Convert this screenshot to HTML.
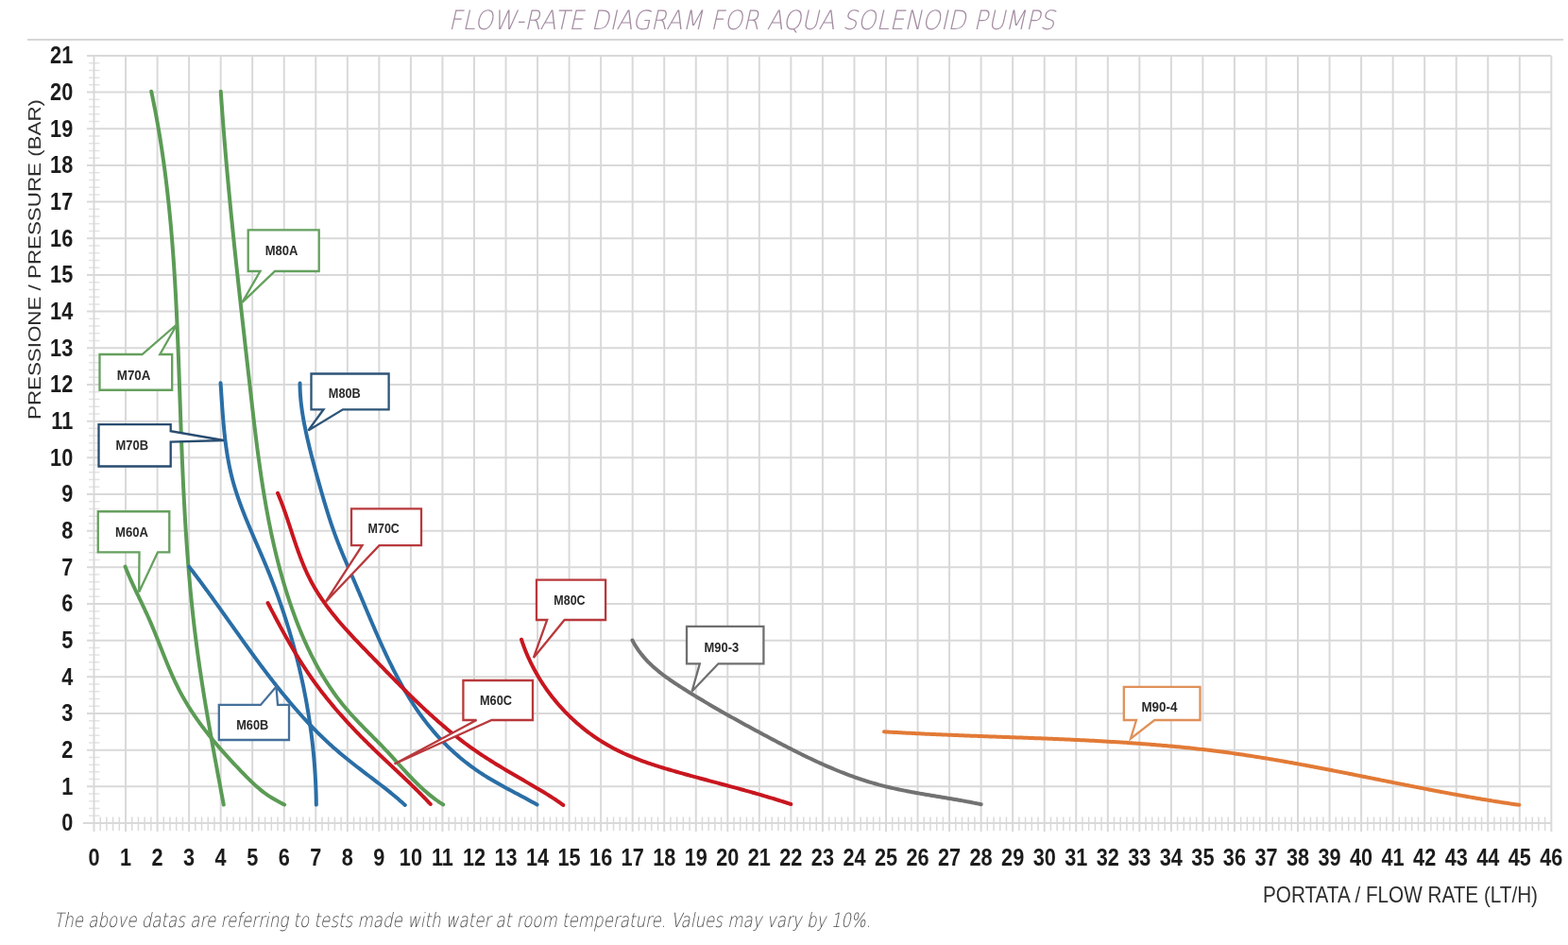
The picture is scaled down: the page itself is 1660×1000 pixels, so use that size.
<!DOCTYPE html>
<html><head><meta charset="utf-8"><title>Flow-rate diagram</title>
<style>html,body{margin:0;padding:0;background:#fff;}body{width:1660px;height:1000px;overflow:hidden;}svg{display:block;filter:blur(0.5px);}</style></head><body>
<svg width="1660" height="1000" viewBox="0 0 1660 1000">
<rect width="1660" height="1000" fill="#fff"/>
<text x="795.8" y="30.7" text-anchor="middle" font-family="DejaVu Sans Light, Liberation Sans, sans-serif" font-style="italic" font-weight="200" font-size="28" fill="#a48ca2" textLength="642" lengthAdjust="spacingAndGlyphs" >FLOW-RATE DIAGRAM FOR AQUA SOLENOID PUMPS</text>
<line x1="29" y1="42" x2="1655" y2="42" stroke="#d6d6d6" stroke-width="2"/>
<path d="M106.21 864.5V879 M112.92 864.5V879 M119.62 864.5V879 M126.33 864.5V879 M139.75 864.5V879 M146.46 864.5V879 M153.16 864.5V879 M159.87 864.5V879 M173.29 864.5V879 M180 864.5V879 M186.7 864.5V879 M193.41 864.5V879 M206.83 864.5V879 M213.54 864.5V879 M220.24 864.5V879 M226.95 864.5V879 M240.37 864.5V879 M247.08 864.5V879 M253.78 864.5V879 M260.49 864.5V879 M273.91 864.5V879 M280.62 864.5V879 M287.32 864.5V879 M294.03 864.5V879 M307.45 864.5V879 M314.16 864.5V879 M320.86 864.5V879 M327.57 864.5V879 M340.99 864.5V879 M347.7 864.5V879 M354.4 864.5V879 M361.11 864.5V879 M374.53 864.5V879 M381.24 864.5V879 M387.94 864.5V879 M394.65 864.5V879 M408.07 864.5V879 M414.78 864.5V879 M421.48 864.5V879 M428.19 864.5V879 M441.61 864.5V879 M448.32 864.5V879 M455.02 864.5V879 M461.73 864.5V879 M475.15 864.5V879 M481.86 864.5V879 M488.56 864.5V879 M495.27 864.5V879 M508.69 864.5V879 M515.4 864.5V879 M522.1 864.5V879 M528.81 864.5V879 M542.23 864.5V879 M548.94 864.5V879 M555.64 864.5V879 M562.35 864.5V879 M575.77 864.5V879 M582.48 864.5V879 M589.18 864.5V879 M595.89 864.5V879 M609.31 864.5V879 M616.02 864.5V879 M622.72 864.5V879 M629.43 864.5V879 M642.85 864.5V879 M649.56 864.5V879 M656.26 864.5V879 M662.97 864.5V879 M676.39 864.5V879 M683.1 864.5V879 M689.8 864.5V879 M696.51 864.5V879 M709.93 864.5V879 M716.64 864.5V879 M723.34 864.5V879 M730.05 864.5V879 M743.47 864.5V879 M750.18 864.5V879 M756.88 864.5V879 M763.59 864.5V879 M777.01 864.5V879 M783.72 864.5V879 M790.42 864.5V879 M797.13 864.5V879 M810.55 864.5V879 M817.26 864.5V879 M823.96 864.5V879 M830.67 864.5V879 M844.09 864.5V879 M850.8 864.5V879 M857.5 864.5V879 M864.21 864.5V879 M877.63 864.5V879 M884.34 864.5V879 M891.04 864.5V879 M897.75 864.5V879 M911.17 864.5V879 M917.88 864.5V879 M924.58 864.5V879 M931.29 864.5V879 M944.71 864.5V879 M951.42 864.5V879 M958.12 864.5V879 M964.83 864.5V879 M978.25 864.5V879 M984.96 864.5V879 M991.66 864.5V879 M998.37 864.5V879 M1011.79 864.5V879 M1018.5 864.5V879 M1025.2 864.5V879 M1031.91 864.5V879 M1045.33 864.5V879 M1052.04 864.5V879 M1058.74 864.5V879 M1065.45 864.5V879 M1078.87 864.5V879 M1085.58 864.5V879 M1092.28 864.5V879 M1098.99 864.5V879 M1112.41 864.5V879 M1119.12 864.5V879 M1125.82 864.5V879 M1132.53 864.5V879 M1145.95 864.5V879 M1152.66 864.5V879 M1159.36 864.5V879 M1166.07 864.5V879 M1179.49 864.5V879 M1186.2 864.5V879 M1192.9 864.5V879 M1199.61 864.5V879 M1213.03 864.5V879 M1219.74 864.5V879 M1226.44 864.5V879 M1233.15 864.5V879 M1246.57 864.5V879 M1253.28 864.5V879 M1259.98 864.5V879 M1266.69 864.5V879 M1280.11 864.5V879 M1286.82 864.5V879 M1293.52 864.5V879 M1300.23 864.5V879 M1313.65 864.5V879 M1320.36 864.5V879 M1327.06 864.5V879 M1333.77 864.5V879 M1347.19 864.5V879 M1353.9 864.5V879 M1360.6 864.5V879 M1367.31 864.5V879 M1380.73 864.5V879 M1387.44 864.5V879 M1394.14 864.5V879 M1400.85 864.5V879 M1414.27 864.5V879 M1420.98 864.5V879 M1427.68 864.5V879 M1434.39 864.5V879 M1447.81 864.5V879 M1454.52 864.5V879 M1461.22 864.5V879 M1467.93 864.5V879 M1481.35 864.5V879 M1488.06 864.5V879 M1494.76 864.5V879 M1501.47 864.5V879 M1514.89 864.5V879 M1521.6 864.5V879 M1528.3 864.5V879 M1535.01 864.5V879 M1548.43 864.5V879 M1555.14 864.5V879 M1561.84 864.5V879 M1568.55 864.5V879 M1581.97 864.5V879 M1588.68 864.5V879 M1595.38 864.5V879 M1602.09 864.5V879 M1615.51 864.5V879 M1622.22 864.5V879 M1628.92 864.5V879 M1635.63 864.5V879" stroke="#dadada" stroke-width="1.5" fill="none"/>
<path d="M94 863.27H105.5 M94 855.53H105.5 M94 847.8H105.5 M94 840.06H105.5 M94 824.6H105.5 M94 816.86H105.5 M94 809.13H105.5 M94 801.39H105.5 M94 785.93H105.5 M94 778.19H105.5 M94 770.46H105.5 M94 762.72H105.5 M94 747.26H105.5 M94 739.52H105.5 M94 731.79H105.5 M94 724.05H105.5 M94 708.59H105.5 M94 700.85H105.5 M94 693.12H105.5 M94 685.38H105.5 M94 669.92H105.5 M94 662.18H105.5 M94 654.45H105.5 M94 646.71H105.5 M94 631.25H105.5 M94 623.51H105.5 M94 615.78H105.5 M94 608.04H105.5 M94 592.58H105.5 M94 584.84H105.5 M94 577.11H105.5 M94 569.37H105.5 M94 553.91H105.5 M94 546.17H105.5 M94 538.44H105.5 M94 530.7H105.5 M94 515.24H105.5 M94 507.5H105.5 M94 499.77H105.5 M94 492.03H105.5 M94 476.57H105.5 M94 468.83H105.5 M94 461.1H105.5 M94 453.36H105.5 M94 437.9H105.5 M94 430.16H105.5 M94 422.43H105.5 M94 414.69H105.5 M94 399.23H105.5 M94 391.49H105.5 M94 383.76H105.5 M94 376.02H105.5 M94 360.56H105.5 M94 352.82H105.5 M94 345.09H105.5 M94 337.35H105.5 M94 321.89H105.5 M94 314.15H105.5 M94 306.42H105.5 M94 298.68H105.5 M94 283.22H105.5 M94 275.48H105.5 M94 267.75H105.5 M94 260.01H105.5 M94 244.55H105.5 M94 236.81H105.5 M94 229.08H105.5 M94 221.34H105.5 M94 205.88H105.5 M94 198.14H105.5 M94 190.41H105.5 M94 182.67H105.5 M94 167.21H105.5 M94 159.47H105.5 M94 151.74H105.5 M94 144H105.5 M94 128.54H105.5 M94 120.8H105.5 M94 113.07H105.5 M94 105.33H105.5 M94 89.87H105.5 M94 82.13H105.5 M94 74.4H105.5 M94 66.66H105.5" stroke="#e3e3e3" stroke-width="1.5" fill="none"/>
<path d="M99.5 58.93V880 M133.04 58.93V880 M166.58 58.93V880 M200.12 58.93V880 M233.66 58.93V880 M267.2 58.93V880 M300.74 58.93V880 M334.28 58.93V880 M367.82 58.93V880 M401.36 58.93V880 M434.9 58.93V880 M468.44 58.93V880 M501.98 58.93V880 M535.52 58.93V880 M569.06 58.93V880 M602.6 58.93V880 M636.14 58.93V880 M669.68 58.93V880 M703.22 58.93V880 M736.76 58.93V880 M770.3 58.93V880 M803.84 58.93V880 M837.38 58.93V880 M870.92 58.93V880 M904.46 58.93V880 M938 58.93V880 M971.54 58.93V880 M1005.08 58.93V880 M1038.62 58.93V880 M1072.16 58.93V880 M1105.7 58.93V880 M1139.24 58.93V880 M1172.78 58.93V880 M1206.32 58.93V880 M1239.86 58.93V880 M1273.4 58.93V880 M1306.94 58.93V880 M1340.48 58.93V880 M1374.02 58.93V880 M1407.56 58.93V880 M1441.1 58.93V880 M1474.64 58.93V880 M1508.18 58.93V880 M1541.72 58.93V880 M1575.26 58.93V880 M1608.8 58.93V880 M1642.34 58.93V880 M92 832.33H1642.34 M92 793.66H1642.34 M92 754.99H1642.34 M92 716.32H1642.34 M92 677.65H1642.34 M92 638.98H1642.34 M92 600.31H1642.34 M92 561.64H1642.34 M92 522.97H1642.34 M92 484.3H1642.34 M92 445.63H1642.34 M92 406.96H1642.34 M92 368.29H1642.34 M92 329.62H1642.34 M92 290.95H1642.34 M92 252.28H1642.34 M92 213.61H1642.34 M92 174.94H1642.34 M92 136.27H1642.34 M92 97.6H1642.34 M92 58.93H1642.34 M88 871H1642.34" stroke="#d9d9d9" stroke-width="2" fill="none"/>
<g transform="scale(0.85 1)" font-family="Liberation Sans, sans-serif" font-weight="bold" font-size="25.5" fill="#1c1c1c"><text x="117.06" y="915.6" text-anchor="middle">0</text><text x="156.52" y="915.6" text-anchor="middle">1</text><text x="195.98" y="915.6" text-anchor="middle">2</text><text x="235.44" y="915.6" text-anchor="middle">3</text><text x="274.89" y="915.6" text-anchor="middle">4</text><text x="314.35" y="915.6" text-anchor="middle">5</text><text x="353.81" y="915.6" text-anchor="middle">6</text><text x="393.27" y="915.6" text-anchor="middle">7</text><text x="432.73" y="915.6" text-anchor="middle">8</text><text x="472.19" y="915.6" text-anchor="middle">9</text><text x="511.65" y="915.6" text-anchor="middle">10</text><text x="551.11" y="915.6" text-anchor="middle">11</text><text x="590.56" y="915.6" text-anchor="middle">12</text><text x="630.02" y="915.6" text-anchor="middle">13</text><text x="669.48" y="915.6" text-anchor="middle">14</text><text x="708.94" y="915.6" text-anchor="middle">15</text><text x="748.4" y="915.6" text-anchor="middle">16</text><text x="787.86" y="915.6" text-anchor="middle">17</text><text x="827.32" y="915.6" text-anchor="middle">18</text><text x="866.78" y="915.6" text-anchor="middle">19</text><text x="906.24" y="915.6" text-anchor="middle">20</text><text x="945.69" y="915.6" text-anchor="middle">21</text><text x="985.15" y="915.6" text-anchor="middle">22</text><text x="1024.61" y="915.6" text-anchor="middle">23</text><text x="1064.07" y="915.6" text-anchor="middle">24</text><text x="1103.53" y="915.6" text-anchor="middle">25</text><text x="1142.99" y="915.6" text-anchor="middle">26</text><text x="1182.45" y="915.6" text-anchor="middle">27</text><text x="1221.91" y="915.6" text-anchor="middle">28</text><text x="1261.36" y="915.6" text-anchor="middle">29</text><text x="1300.82" y="915.6" text-anchor="middle">30</text><text x="1340.28" y="915.6" text-anchor="middle">31</text><text x="1379.74" y="915.6" text-anchor="middle">32</text><text x="1419.2" y="915.6" text-anchor="middle">33</text><text x="1458.66" y="915.6" text-anchor="middle">34</text><text x="1498.12" y="915.6" text-anchor="middle">35</text><text x="1537.58" y="915.6" text-anchor="middle">36</text><text x="1577.04" y="915.6" text-anchor="middle">37</text><text x="1616.49" y="915.6" text-anchor="middle">38</text><text x="1655.95" y="915.6" text-anchor="middle">39</text><text x="1695.41" y="915.6" text-anchor="middle">40</text><text x="1734.87" y="915.6" text-anchor="middle">41</text><text x="1774.33" y="915.6" text-anchor="middle">42</text><text x="1813.79" y="915.6" text-anchor="middle">43</text><text x="1853.25" y="915.6" text-anchor="middle">44</text><text x="1892.71" y="915.6" text-anchor="middle">45</text><text x="1932.16" y="915.6" text-anchor="middle">46</text><text x="90.82" y="879.4" text-anchor="end">0</text><text x="90.82" y="840.73" text-anchor="end">1</text><text x="90.82" y="802.06" text-anchor="end">2</text><text x="90.82" y="763.39" text-anchor="end">3</text><text x="90.82" y="724.72" text-anchor="end">4</text><text x="90.82" y="686.05" text-anchor="end">5</text><text x="90.82" y="647.38" text-anchor="end">6</text><text x="90.82" y="608.71" text-anchor="end">7</text><text x="90.82" y="570.04" text-anchor="end">8</text><text x="90.82" y="531.37" text-anchor="end">9</text><text x="90.82" y="492.7" text-anchor="end">10</text><text x="90.82" y="454.03" text-anchor="end">11</text><text x="90.82" y="415.36" text-anchor="end">12</text><text x="90.82" y="376.69" text-anchor="end">13</text><text x="90.82" y="338.02" text-anchor="end">14</text><text x="90.82" y="299.35" text-anchor="end">15</text><text x="90.82" y="260.68" text-anchor="end">16</text><text x="90.82" y="222.01" text-anchor="end">17</text><text x="90.82" y="183.34" text-anchor="end">18</text><text x="90.82" y="144.67" text-anchor="end">19</text><text x="90.82" y="106" text-anchor="end">20</text><text x="90.82" y="67.33" text-anchor="end">21</text></g>
<text transform="translate(42.6 444) rotate(-90)" font-family="Liberation Sans, sans-serif" font-size="18.6" fill="#2e2e2e" textLength="339" lengthAdjust="spacingAndGlyphs">PRESSIONE / PRESSURE (BAR)</text>
<text x="1337" y="955" font-family="Liberation Sans, sans-serif" font-size="23.8" fill="#2e2e2e" textLength="291" lengthAdjust="spacingAndGlyphs">PORTATA / FLOW RATE (LT/H)</text>
<text x="57" y="980.7" font-family="DejaVu Sans Light, Liberation Sans, sans-serif" font-style="italic" font-size="21" fill="#4a4a4a" textLength="865" lengthAdjust="spacingAndGlyphs">The above datas are referring to tests made with water at room temperature. Values may vary by 10%.</text>
<path d="M160.21 96.75 L160.62 98.72 161.04 100.69 161.45 102.66 161.85 104.63 162.25 106.6 162.65 108.57 163.04 110.55 163.43 112.52 163.82 114.49 164.2 116.47 164.57 118.44 164.94 120.41 165.31 122.39 165.68 124.36 166.04 126.34 166.39 128.32 166.75 130.29 167.09 132.27 167.44 134.25 167.78 136.22 168.12 138.2 168.45 140.18 168.78 142.16 169.11 144.14 169.43 146.12 169.75 148.1 170.06 150.08 170.37 152.06 170.68 154.04 170.98 156.02 171.29 158 171.58 159.99 171.88 161.97 172.17 163.95 172.45 165.94 172.74 167.92 173.02 169.9 173.29 171.89 173.57 173.87 173.84 175.86 174.1 177.84 174.37 179.83 174.63 181.82 174.88 183.8 175.14 185.79 175.39 187.78 175.64 189.76 175.88 191.75 176.12 193.74 176.36 195.73 176.6 197.72 176.83 199.71 177.06 201.7 177.29 203.68 177.51 205.67 177.73 207.67 177.95 209.66 178.17 211.65 178.38 213.64 178.59 215.63 178.8 217.62 179 219.61 179.2 221.61 179.4 223.6 179.6 225.59 179.79 227.58 179.98 229.58 180.17 231.57 180.36 233.56 180.54 235.56 180.72 237.55 180.9 239.55 181.08 241.54 181.25 243.54 181.42 245.53 181.59 247.53 181.76 249.52 181.93 251.52 182.09 253.52 182.25 255.51 182.41 257.51 182.56 259.51 182.72 261.5 182.87 263.5 183.02 265.5 183.17 267.5 183.31 269.5 183.46 271.49 183.6 273.49 183.74 275.49 183.87 277.49 184.01 279.49 184.14 281.49 184.28 283.49 184.41 285.49 184.54 287.49 184.66 289.49 184.79 291.49 184.91 293.49 185.03 295.49 185.15 297.49 185.27 299.49 185.39 301.49 185.5 303.49 185.62 305.49 185.73 307.49 185.84 309.5 185.95 311.5 186.06 313.5 186.16 315.5 186.27 317.5 186.37 319.51 186.47 321.51 186.57 323.51 186.67 325.51 186.77 327.52 186.87 329.52 186.97 331.52 187.06 333.53 187.15 335.53 187.25 337.53 187.34 339.54 187.43 341.54 187.52 343.54 187.61 345.55 187.69 347.55 187.78 349.55 187.86 351.56 187.95 353.56 188.03 355.57 188.12 357.57 188.2 359.58 188.28 361.58 188.36 363.58 188.44 365.59 188.52 367.59 188.59 369.6 188.67 371.6 188.75 373.61 188.83 375.61 188.9 377.62 188.98 379.62 189.05 381.63 189.12 383.63 189.2 385.64 189.27 387.64 189.34 389.65 189.42 391.65 189.49 393.66 189.56 395.66 189.63 397.67 189.7 399.68 189.77 401.68 189.84 403.69 189.91 405.69 189.98 407.7 190.05 409.7 190.12 411.71 190.19 413.71 190.26 415.72 190.33 417.72 190.4 419.73 190.47 421.73 190.54 423.74 190.61 425.74 190.68 427.75 190.75 429.76 190.82 431.76 190.89 433.77 190.96 435.77 191.03 437.78 191.1 439.78 191.17 441.79 191.24 443.79 191.31 445.8 191.38 447.8 191.46 449.81 191.53 451.81 191.6 453.82 191.68 455.82 191.75 457.82 191.82 459.83 191.9 461.83 191.97 463.84 192.05 465.84 192.13 467.85 192.2 469.85 192.28 471.86 192.36 473.86 192.44 475.86 192.52 477.87 192.6 479.87 192.68 481.87 192.76 483.88 192.84 485.88 192.93 487.89 193.01 489.89 193.1 491.89 193.18 493.9 193.27 495.9 193.36 497.9 193.44 499.9 193.53 501.91 193.62 503.91 193.71 505.91 193.81 507.92 193.9 509.92 193.99 511.92 194.09 513.92 194.18 515.92 194.28 517.93 194.38 519.93 194.48 521.93 194.58 523.93 194.68 525.93 194.79 527.93 194.89 529.94 195 531.94 195.1 533.94 195.21 535.94 195.32 537.94 195.43 539.94 195.54 541.94 195.65 543.94 195.77 545.94 195.89 547.94 196 549.94 196.12 551.94 196.24 553.94 196.36 555.94 196.49 557.94 196.61 559.94 196.74 561.94 196.87 563.94 197 565.94 197.13 567.93 197.26 569.93 197.4 571.93 197.53 573.93 197.67 575.93 197.81 577.92 197.95 579.92 198.09 581.92 198.24 583.92 198.39 585.91 198.53 587.91 198.68 589.91 198.84 591.9 198.99 593.9 199.15 595.9 199.3 597.89 199.46 599.89 199.63 601.88 199.79 603.88 199.96 605.87 200.12 607.87 200.29 609.86 200.47 611.86 200.64 613.85 200.82 615.85 200.99 617.84 201.17 619.84 201.36 621.83 201.54 623.82 201.73 625.82 201.92 627.81 202.11 629.8 202.3 631.79 202.5 633.79 202.7 635.78 202.9 637.77 203.1 639.76 203.31 641.75 203.52 643.74 203.73 645.74 203.94 647.73 204.16 649.72 204.37 651.71 204.59 653.7 204.82 655.69 205.04 657.68 205.27 659.67 205.5 661.66 205.74 663.64 205.97 665.63 206.21 667.62 206.45 669.61 206.7 671.6 206.94 673.58 207.19 675.57 207.44 677.56 207.7 679.55 207.96 681.53 208.22 683.52 208.48 685.5 208.75 687.49 209.02 689.48 209.29 691.46 209.56 693.45 209.84 695.43 210.12 697.42 210.4 699.4 210.68 701.38 210.97 703.37 211.25 705.35 211.55 707.33 211.84 709.32 212.13 711.3 212.43 713.28 212.73 715.27 213.03 717.25 213.34 719.23 213.64 721.21 213.95 723.19 214.26 725.17 214.57 727.16 214.89 729.14 215.2 731.12 215.52 733.1 215.84 735.08 216.16 737.06 216.48 739.04 216.81 741.02 217.14 743 217.46 744.98 217.79 746.96 218.13 748.93 218.46 750.91 218.79 752.89 219.13 754.87 219.47 756.85 219.81 758.83 220.15 760.8 220.49 762.78 220.83 764.76 221.18 766.73 221.52 768.71 221.87 770.69 222.22 772.66 222.57 774.64 222.92 776.62 223.27 778.59 223.63 780.57 223.98 782.54 224.33 784.52 224.69 786.49 225.05 788.47 225.41 790.44 225.76 792.42 226.12 794.39 226.48 796.37 226.85 798.34 227.21 800.32 227.57 802.29 227.93 804.26 228.3 806.24 228.66 808.21 229.03 810.18 229.39 812.16 229.76 814.13 230.13 816.1 230.49 818.08 230.86 820.05 231.23 822.02 231.6 823.99 231.97 825.97 232.34 827.94 232.7 829.91 233.07 831.88 233.44 833.85 233.81 835.82 234.18 837.8 234.55 839.77 234.92 841.74 235.29 843.71 235.66 845.68 236.03 847.65 236.4 849.62 236.77 851.59" stroke="#5b9b55" stroke-width="4" fill="none" stroke-linecap="round" stroke-linejoin="round"/>
<path d="M233.78 96.74 L233.91 98.75 234.05 100.75 234.19 102.76 234.32 104.76 234.46 106.77 234.6 108.77 234.74 110.77 234.89 112.77 235.03 114.78 235.18 116.78 235.32 118.78 235.47 120.78 235.62 122.79 235.77 124.79 235.92 126.79 236.07 128.79 236.22 130.79 236.38 132.79 236.53 134.79 236.69 136.79 236.85 138.79 237.01 140.79 237.17 142.79 237.33 144.79 237.49 146.79 237.65 148.79 237.81 150.78 237.98 152.78 238.14 154.78 238.31 156.78 238.48 158.78 238.65 160.77 238.82 162.77 238.99 164.77 239.16 166.76 239.33 168.76 239.51 170.76 239.68 172.75 239.86 174.75 240.03 176.75 240.21 178.74 240.39 180.74 240.57 182.73 240.75 184.73 240.93 186.72 241.11 188.72 241.29 190.71 241.47 192.71 241.66 194.7 241.84 196.7 242.03 198.69 242.22 200.69 242.4 202.68 242.59 204.68 242.78 206.67 242.97 208.66 243.16 210.66 243.35 212.65 243.54 214.64 243.74 216.64 243.93 218.63 244.13 220.62 244.32 222.62 244.52 224.61 244.71 226.6 244.91 228.59 245.11 230.59 245.31 232.58 245.51 234.57 245.71 236.56 245.91 238.55 246.11 240.55 246.31 242.54 246.51 244.53 246.72 246.52 246.92 248.51 247.12 250.51 247.33 252.5 247.53 254.49 247.74 256.48 247.95 258.47 248.15 260.46 248.36 262.45 248.57 264.45 248.78 266.44 248.99 268.43 249.2 270.42 249.41 272.41 249.62 274.4 249.83 276.39 250.04 278.38 250.26 280.37 250.47 282.36 250.68 284.36 250.9 286.35 251.11 288.34 251.33 290.33 251.54 292.32 251.76 294.31 251.97 296.3 252.19 298.29 252.41 300.28 252.62 302.27 252.84 304.26 253.06 306.25 253.28 308.25 253.5 310.24 253.71 312.23 253.93 314.22 254.15 316.21 254.37 318.2 254.59 320.19 254.81 322.18 255.04 324.17 255.26 326.16 255.48 328.15 255.7 330.15 255.92 332.14 256.14 334.13 256.37 336.12 256.59 338.11 256.81 340.1 257.04 342.09 257.26 344.08 257.48 346.08 257.71 348.07 257.93 350.06 258.16 352.05 258.38 354.04 258.6 356.03 258.83 358.03 259.05 360.02 259.28 362.01 259.5 364 259.73 365.99 259.96 367.99 260.18 369.98 260.41 371.97 260.63 373.96 260.86 375.96 261.08 377.95 261.31 379.94 261.54 381.93 261.76 383.93 261.99 385.92 262.21 387.91 262.44 389.91 262.67 391.9 262.89 393.89 263.12 395.89 263.35 397.88 263.57 399.88 263.8 401.87 264.02 403.87 264.25 405.86 264.48 407.85 264.7 409.85 264.93 411.84 265.15 413.84 265.38 415.83 265.61 417.83 265.83 419.82 266.06 421.82 266.29 423.82 266.52 425.81 266.74 427.81 266.97 429.8 267.2 431.8 267.43 433.79 267.66 435.79 267.9 437.78 268.13 439.78 268.36 441.77 268.6 443.77 268.83 445.76 269.07 447.75 269.31 449.75 269.55 451.74 269.79 453.74 270.03 455.73 270.28 457.72 270.52 459.72 270.77 461.71 271.02 463.7 271.27 465.69 271.52 467.68 271.77 469.68 272.03 471.67 272.28 473.66 272.54 475.65 272.8 477.64 273.07 479.63 273.33 481.62 273.6 483.61 273.87 485.59 274.14 487.58 274.42 489.57 274.7 491.55 274.98 493.54 275.26 495.53 275.54 497.51 275.83 499.5 276.12 501.48 276.42 503.46 276.71 505.44 277.01 507.43 277.32 509.41 277.62 511.39 277.93 513.37 278.24 515.35 278.56 517.33 278.87 519.3 279.2 521.28 279.52 523.26 279.85 525.23 280.18 527.21 280.52 529.18 280.86 531.15 281.2 533.12 281.55 535.1 281.9 537.07 282.25 539.04 282.61 541 282.98 542.97 283.34 544.94 283.72 546.9 284.09 548.87 284.47 550.83 284.85 552.79 285.24 554.76 285.64 556.72 286.03 558.68 286.44 560.63 286.84 562.59 287.25 564.55 287.67 566.5 288.09 568.46 288.52 570.41 288.95 572.36 289.39 574.31 289.83 576.26 290.27 578.21 290.72 580.15 291.18 582.1 291.64 584.04 292.11 585.99 292.58 587.93 293.06 589.87 293.55 591.81 294.04 593.75 294.53 595.68 295.03 597.62 295.54 599.55 296.05 601.48 296.57 603.41 297.1 605.34 297.63 607.27 298.16 609.2 298.71 611.12 299.26 613.04 299.81 614.97 300.37 616.89 300.94 618.8 301.52 620.72 302.1 622.64 302.69 624.55 303.28 626.46 303.88 628.37 304.49 630.28 305.11 632.19 305.73 634.09 306.36 636 306.99 637.9 307.64 639.8 308.29 641.7 308.94 643.6 309.61 645.49 310.28 647.38 310.96 649.27 311.65 651.16 312.34 653.05 313.05 654.93 313.76 656.81 314.48 658.68 315.21 660.56 315.94 662.43 316.68 664.3 317.44 666.16 318.2 668.02 318.97 669.87 319.75 671.72 320.53 673.57 321.33 675.42 322.14 677.26 322.95 679.09 323.77 680.92 324.61 682.74 325.45 684.56 326.3 686.38 327.16 688.19 328.04 689.99 328.92 691.79 329.81 693.59 330.71 695.38 331.62 697.16 332.55 698.93 333.48 700.7 334.42 702.47 335.37 704.23 336.34 705.98 337.31 707.72 338.3 709.46 339.3 711.19 340.31 712.91 341.32 714.63 342.35 716.34 343.4 718.04 344.45 719.73 345.52 721.42 346.59 723.1 347.68 724.77 348.78 726.43 349.89 728.08 351.02 729.73 352.15 731.37 353.3 732.99 354.46 734.61 355.64 736.22 356.82 737.83 358.02 739.42 359.23 741 360.46 742.57 361.7 744.14 362.95 745.69 364.21 747.23 365.49 748.77 366.78 750.29 368.08 751.81 369.4 753.31 370.73 754.81 372.07 756.29 373.42 757.77 374.78 759.24 376.14 760.71 377.52 762.17 378.91 763.62 380.3 765.07 381.69 766.51 383.1 767.95 384.51 769.38 385.92 770.81 387.33 772.24 388.75 773.67 390.17 775.1 391.59 776.52 393.02 777.95 394.44 779.37 395.86 780.8 397.28 782.23 398.7 783.66 400.11 785.09 401.52 786.52 402.93 787.96 404.33 789.4 405.73 790.85 407.12 792.3 408.5 793.76 409.88 795.22 411.25 796.69 412.61 798.16 413.97 799.64 415.33 801.12 416.68 802.6 418.02 804.08 419.37 805.57 420.71 807.05 422.06 808.54 423.4 810.02 424.75 811.5 426.09 812.98 427.44 814.45 428.79 815.92 430.15 817.39 431.51 818.85 432.87 820.31 434.25 821.75 435.63 823.19 437.01 824.62 438.41 826.05 439.81 827.46 441.22 828.86 442.65 830.25 444.08 831.63 445.53 833 446.99 834.35 448.46 835.69 449.95 837.02 451.46 838.32 452.98 839.62 454.51 840.89 456.06 842.15 457.64 843.39 459.23 844.61 460.83 845.82 462.46 847 464.11 848.16 465.79 849.3 467.48 850.41 469.2 851.51" stroke="#5b9b55" stroke-width="4" fill="none" stroke-linecap="round" stroke-linejoin="round"/>
<path d="M132.51 599.5 L133.25 601.38 134 603.25 134.77 605.12 135.55 606.98 136.34 608.83 137.14 610.68 137.96 612.52 138.78 614.36 139.61 616.19 140.44 618.02 141.29 619.84 142.14 621.66 142.99 623.48 143.85 625.3 144.71 627.11 145.58 628.93 146.45 630.74 147.31 632.55 148.18 634.36 149.05 636.17 149.92 637.98 150.78 639.79 151.65 641.61 152.5 643.42 153.36 645.24 154.21 647.06 155.05 648.88 155.89 650.71 156.72 652.54 157.54 654.37 158.35 656.21 159.15 658.06 159.95 659.91 160.74 661.76 161.52 663.62 162.29 665.48 163.06 667.34 163.82 669.2 164.58 671.07 165.33 672.94 166.08 674.81 166.83 676.69 167.57 678.56 168.31 680.44 169.05 682.31 169.79 684.19 170.53 686.07 171.28 687.94 172.02 689.82 172.76 691.69 173.51 693.57 174.25 695.44 175.01 697.31 175.76 699.18 176.52 701.04 177.29 702.9 178.06 704.76 178.83 706.62 179.62 708.47 180.41 710.32 181.21 712.16 182.02 714 182.83 715.83 183.66 717.66 184.5 719.49 185.34 721.3 186.2 723.12 187.07 724.92 187.96 726.72 188.85 728.51 189.76 730.29 190.69 732.07 191.63 733.83 192.58 735.59 193.55 737.35 194.54 739.09 195.53 740.82 196.55 742.55 197.57 744.27 198.61 745.98 199.67 747.69 200.73 749.38 201.81 751.07 202.9 752.76 204.01 754.43 205.12 756.1 206.25 757.76 207.39 759.41 208.54 761.06 209.7 762.7 210.88 764.33 212.06 765.95 213.25 767.57 214.46 769.19 215.67 770.79 216.89 772.39 218.13 773.98 219.37 775.57 220.62 777.15 221.88 778.73 223.14 780.29 224.42 781.86 225.7 783.41 226.99 784.96 228.29 786.51 229.6 788.05 230.91 789.58 232.23 791.11 233.55 792.63 234.89 794.15 236.22 795.66 237.57 797.16 238.91 798.67 240.27 800.16 241.62 801.65 242.99 803.14 244.35 804.62 245.73 806.1 247.1 807.57 248.48 809.04 249.86 810.5 251.25 811.96 252.64 813.41 254.03 814.86 255.42 816.31 256.81 817.75 258.21 819.19 259.61 820.62 261.01 822.04 262.42 823.46 263.84 824.87 265.26 826.27 266.7 827.65 268.14 829.02 269.6 830.38 271.07 831.71 272.56 833.02 274.07 834.32 275.6 835.59 277.14 836.83 278.71 838.05 280.31 839.24 281.92 840.4 283.57 841.53 285.24 842.63 286.95 843.69 288.67 844.73 290.42 845.74 292.18 846.73 293.96 847.72 295.74 848.69 297.53 849.65 299.32 850.62 301.1 851.6" stroke="#5b9b55" stroke-width="4" fill="none" stroke-linecap="round" stroke-linejoin="round"/>
<path d="M233.52 405.24 L233.66 407.24 233.8 409.23 233.93 411.23 234.07 413.22 234.2 415.22 234.34 417.23 234.47 419.23 234.6 421.24 234.74 423.24 234.87 425.25 235.01 427.26 235.15 429.27 235.29 431.28 235.44 433.29 235.59 435.3 235.74 437.31 235.89 439.32 236.05 441.33 236.21 443.34 236.38 445.35 236.55 447.36 236.73 449.37 236.92 451.38 237.11 453.39 237.3 455.4 237.51 457.4 237.72 459.41 237.94 461.41 238.16 463.41 238.4 465.41 238.64 467.41 238.9 469.4 239.16 471.4 239.43 473.39 239.72 475.37 240.01 477.36 240.32 479.34 240.63 481.32 240.96 483.3 241.3 485.27 241.65 487.24 242.02 489.21 242.4 491.17 242.79 493.13 243.19 495.08 243.61 497.03 244.05 498.98 244.5 500.92 244.96 502.86 245.44 504.79 245.94 506.71 246.45 508.64 246.98 510.55 247.52 512.47 248.08 514.38 248.65 516.28 249.24 518.18 249.84 520.08 250.45 521.97 251.07 523.86 251.7 525.74 252.35 527.63 253.01 529.5 253.68 531.38 254.36 533.25 255.05 535.12 255.74 536.99 256.45 538.85 257.17 540.71 257.89 542.57 258.62 544.43 259.36 546.28 260.11 548.14 260.86 549.99 261.62 551.84 262.39 553.69 263.16 555.53 263.93 557.38 264.71 559.22 265.49 561.07 266.28 562.91 267.07 564.75 267.86 566.59 268.66 568.43 269.46 570.28 270.25 572.12 271.05 573.96 271.85 575.8 272.65 577.64 273.46 579.48 274.25 581.32 275.05 583.17 275.85 585.01 276.65 586.85 277.44 588.7 278.23 590.55 279.02 592.4 279.8 594.25 280.58 596.1 281.36 597.95 282.13 599.81 282.89 601.66 283.65 603.52 284.41 605.38 285.16 607.25 285.91 609.11 286.64 610.98 287.38 612.85 288.11 614.72 288.83 616.6 289.55 618.47 290.27 620.35 290.97 622.23 291.68 624.11 292.37 625.99 293.07 627.88 293.75 629.76 294.44 631.65 295.11 633.54 295.78 635.44 296.45 637.33 297.11 639.23 297.76 641.12 298.41 643.02 299.06 644.93 299.7 646.83 300.33 648.73 300.96 650.64 301.58 652.55 302.2 654.46 302.81 656.37 303.42 658.28 304.02 660.2 304.61 662.11 305.2 664.03 305.79 665.95 306.37 667.87 306.94 669.8 307.51 671.72 308.07 673.65 308.63 675.57 309.18 677.5 309.72 679.43 310.26 681.37 310.8 683.3 311.33 685.23 311.85 687.17 312.37 689.11 312.88 691.05 313.39 692.99 313.89 694.93 314.38 696.87 314.87 698.82 315.36 700.76 315.83 702.71 316.31 704.66 316.77 706.61 317.23 708.56 317.69 710.52 318.14 712.47 318.58 714.43 319.02 716.38 319.45 718.34 319.88 720.3 320.3 722.26 320.72 724.22 321.13 726.18 321.53 728.15 321.93 730.11 322.32 732.08 322.71 734.05 323.09 736.01 323.46 737.98 323.83 739.95 324.19 741.92 324.55 743.9 324.9 745.87 325.24 747.85 325.58 749.82 325.92 751.8 326.24 753.78 326.56 755.75 326.88 757.73 327.19 759.71 327.49 761.7 327.79 763.68 328.08 765.66 328.37 767.65 328.65 769.63 328.92 771.62 329.19 773.6 329.45 775.59 329.7 777.58 329.95 779.57 330.2 781.56 330.43 783.55 330.67 785.54 330.89 787.53 331.11 789.53 331.32 791.52 331.53 793.52 331.73 795.51 331.92 797.51 332.11 799.5 332.29 801.5 332.47 803.5 332.64 805.5 332.8 807.5 332.96 809.5 333.11 811.5 333.26 813.5 333.39 815.5 333.53 817.5 333.65 819.5 333.77 821.51 333.89 823.51 333.99 825.51 334.1 827.52 334.19 829.52 334.28 831.53 334.36 833.53 334.44 835.54 334.51 837.55 334.57 839.55 334.63 841.56 334.68 843.57 334.72 845.58 334.76 847.59 334.79 849.59 334.82 851.6" stroke="#2a6ea6" stroke-width="4" fill="none" stroke-linecap="round" stroke-linejoin="round"/>
<path d="M200.23 599.77 L201.45 601.35 202.66 602.92 203.87 604.51 205.08 606.09 206.29 607.68 207.49 609.27 208.69 610.86 209.89 612.46 211.08 614.06 212.28 615.66 213.47 617.26 214.66 618.87 215.85 620.48 217.03 622.09 218.21 623.7 219.4 625.32 220.58 626.94 221.75 628.56 222.93 630.18 224.11 631.8 225.28 633.42 226.45 635.05 227.63 636.68 228.8 638.31 229.97 639.94 231.13 641.57 232.3 643.2 233.47 644.83 234.64 646.47 235.8 648.1 236.97 649.74 238.13 651.37 239.3 653.01 240.46 654.65 241.63 656.29 242.79 657.92 243.96 659.56 245.12 661.2 246.29 662.84 247.45 664.48 248.62 666.12 249.79 667.75 250.95 669.39 252.12 671.03 253.29 672.67 254.46 674.3 255.63 675.94 256.8 677.58 257.97 679.21 259.14 680.84 260.32 682.48 261.5 684.11 262.67 685.74 263.85 687.37 265.03 688.99 266.21 690.62 267.4 692.25 268.58 693.87 269.77 695.49 270.96 697.11 272.15 698.73 273.35 700.35 274.55 701.96 275.74 703.57 276.95 705.18 278.15 706.79 279.36 708.39 280.57 710 281.78 711.6 282.99 713.19 284.21 714.79 285.43 716.38 286.66 717.97 287.89 719.56 289.12 721.14 290.35 722.72 291.59 724.3 292.83 725.87 294.08 727.44 295.32 729.01 296.58 730.57 297.83 732.13 299.1 733.68 300.36 735.23 301.63 736.78 302.9 738.33 304.18 739.87 305.46 741.4 306.75 742.93 308.04 744.46 309.34 745.98 310.64 747.5 311.94 749.01 313.25 750.52 314.57 752.02 315.89 753.52 317.22 755.02 318.55 756.51 319.89 757.99 321.23 759.47 322.58 760.94 323.93 762.41 325.29 763.87 326.66 765.33 328.03 766.78 329.41 768.22 330.79 769.66 332.18 771.09 333.58 772.52 334.98 773.93 336.39 775.35 337.81 776.75 339.23 778.15 340.66 779.54 342.1 780.93 343.54 782.3 344.99 783.67 346.45 785.03 347.92 786.39 349.39 787.73 350.87 789.07 352.36 790.4 353.86 791.73 355.36 793.04 356.87 794.35 358.39 795.64 359.92 796.93 361.45 798.22 362.99 799.5 364.53 800.77 366.08 802.03 367.64 803.29 369.2 804.55 370.77 805.79 372.34 807.04 373.91 808.28 375.49 809.51 377.07 810.75 378.66 811.97 380.24 813.2 381.83 814.42 383.43 815.64 385.02 816.86 386.62 818.08 388.22 819.29 389.82 820.5 391.42 821.72 393.02 822.93 394.62 824.14 396.22 825.36 397.82 826.58 399.41 827.79 401 829.01 402.6 830.24 404.18 831.47 405.77 832.7 407.35 833.93 408.93 835.17 410.5 836.42 412.06 837.67 413.62 838.93 415.18 840.2 416.72 841.47 418.26 842.75 419.8 844.04 421.32 845.34 422.84 846.65 424.35 847.97 425.85 849.3 427.33 850.63 428.81 851.99" stroke="#2a6ea6" stroke-width="4" fill="none" stroke-linecap="round" stroke-linejoin="round"/>
<path d="M317.54 405.4 L317.55 407.42 317.58 409.43 317.64 411.44 317.71 413.45 317.82 415.45 317.94 417.45 318.08 419.44 318.24 421.43 318.42 423.42 318.62 425.41 318.84 427.39 319.08 429.37 319.33 431.35 319.6 433.33 319.88 435.3 320.18 437.27 320.49 439.24 320.82 441.2 321.16 443.17 321.51 445.13 321.87 447.09 322.24 449.05 322.63 451.01 323.02 452.97 323.43 454.92 323.84 456.88 324.26 458.83 324.68 460.78 325.12 462.73 325.56 464.68 326.01 466.63 326.47 468.58 326.93 470.53 327.39 472.47 327.87 474.42 328.35 476.37 328.83 478.31 329.32 480.25 329.82 482.2 330.32 484.14 330.82 486.08 331.33 488.02 331.85 489.96 332.36 491.9 332.88 493.84 333.41 495.78 333.93 497.72 334.46 499.66 335 501.59 335.53 503.53 336.07 505.47 336.61 507.4 337.15 509.34 337.7 511.27 338.24 513.21 338.79 515.14 339.33 517.07 339.88 519.01 340.43 520.94 340.99 522.87 341.54 524.8 342.1 526.73 342.67 528.66 343.23 530.58 343.8 532.5 344.38 534.43 344.96 536.35 345.54 538.26 346.13 540.18 346.72 542.09 347.32 544 347.92 545.91 348.53 547.82 349.15 549.72 349.77 551.62 350.4 553.51 351.03 555.41 351.68 557.29 352.33 559.18 352.99 561.06 353.65 562.94 354.33 564.81 355.01 566.68 355.7 568.54 356.4 570.4 357.11 572.26 357.83 574.11 358.55 575.96 359.28 577.81 360.02 579.65 360.76 581.49 361.51 583.33 362.27 585.16 363.03 586.99 363.79 588.82 364.56 590.65 365.34 592.48 366.11 594.31 366.9 596.13 367.68 597.96 368.47 599.79 369.25 601.61 370.05 603.44 370.84 605.26 371.63 607.09 372.42 608.92 373.22 610.74 374.01 612.57 374.81 614.4 375.6 616.24 376.39 618.07 377.18 619.91 377.97 621.75 378.76 623.59 379.54 625.44 380.33 627.28 381.11 629.13 381.9 630.98 382.68 632.83 383.46 634.68 384.25 636.54 385.03 638.39 385.81 640.25 386.59 642.11 387.38 643.96 388.16 645.82 388.94 647.68 389.73 649.54 390.52 651.4 391.3 653.26 392.09 655.11 392.88 656.97 393.68 658.83 394.47 660.69 395.27 662.54 396.07 664.4 396.87 666.25 397.67 668.11 398.48 669.96 399.29 671.81 400.1 673.66 400.92 675.51 401.74 677.35 402.56 679.19 403.39 681.04 404.22 682.87 405.06 684.71 405.9 686.54 406.74 688.38 407.59 690.2 408.45 692.03 409.31 693.85 410.17 695.67 411.04 697.49 411.92 699.3 412.8 701.11 413.68 702.91 414.58 704.71 415.47 706.51 416.38 708.3 417.29 710.09 418.21 711.87 419.14 713.65 420.07 715.42 421.01 717.19 421.96 718.95 422.91 720.71 423.87 722.47 424.84 724.21 425.82 725.95 426.81 727.69 427.8 729.42 428.81 731.14 429.82 732.86 430.84 734.57 431.87 736.28 432.91 737.97 433.96 739.66 435.02 741.35 436.08 743.02 437.16 744.69 438.25 746.36 439.35 748.01 440.46 749.66 441.58 751.3 442.71 752.93 443.85 754.55 445 756.17 446.16 757.77 447.34 759.37 448.53 760.96 449.72 762.54 450.94 764.11 452.16 765.67 453.39 767.23 454.64 768.77 455.9 770.31 457.17 771.83 458.46 773.35 459.75 774.85 461.07 776.35 462.39 777.83 463.72 779.31 465.07 780.77 466.43 782.22 467.8 783.67 469.19 785.1 470.58 786.52 471.99 787.93 473.41 789.33 474.84 790.72 476.28 792.1 477.74 793.46 479.2 794.82 480.68 796.16 482.17 797.49 483.67 798.81 485.18 800.11 486.71 801.41 488.24 802.69 489.78 803.96 491.34 805.22 492.91 806.46 494.48 807.69 496.07 808.91 497.67 810.12 499.28 811.31 500.9 812.49 502.53 813.65 504.17 814.8 505.82 815.94 507.48 817.07 509.15 818.18 510.83 819.27 512.52 820.36 514.22 821.43 515.93 822.48 517.65 823.53 519.37 824.56 521.11 825.58 522.85 826.6 524.59 827.6 526.34 828.59 528.1 829.58 529.86 830.56 531.62 831.53 533.39 832.5 535.16 833.46 536.93 834.41 538.7 835.37 540.48 836.31 542.26 837.26 544.03 838.2 545.81 839.15 547.58 840.09 549.36 841.03 551.13 841.97 552.9 842.92 554.66 843.86 556.42 844.81 558.18 845.77 559.93 846.72 561.68 847.68 563.42 848.65 565.16 849.62 566.89 850.6 568.61 851.59" stroke="#2a6ea6" stroke-width="4" fill="none" stroke-linecap="round" stroke-linejoin="round"/>
<path d="M293.99 521.76 L294.75 523.57 295.5 525.38 296.24 527.21 296.97 529.04 297.68 530.89 298.39 532.74 299.08 534.6 299.77 536.47 300.45 538.34 301.12 540.23 301.78 542.12 302.44 544.01 303.09 545.91 303.73 547.81 304.38 549.72 305.01 551.64 305.65 553.55 306.28 555.47 306.91 557.39 307.55 559.32 308.18 561.24 308.81 563.17 309.44 565.09 310.07 567.02 310.71 568.94 311.35 570.87 312 572.79 312.65 574.71 313.3 576.63 313.96 578.54 314.63 580.46 315.3 582.37 315.98 584.27 316.68 586.17 317.38 588.06 318.09 589.95 318.81 591.83 319.54 593.71 320.29 595.57 321.05 597.43 321.82 599.29 322.6 601.13 323.4 602.96 324.22 604.79 325.05 606.6 325.9 608.41 326.77 610.2 327.66 611.98 328.56 613.75 329.48 615.5 330.43 617.25 331.39 618.98 332.37 620.7 333.36 622.42 334.38 624.12 335.41 625.8 336.45 627.48 337.52 629.15 338.6 630.81 339.69 632.46 340.8 634.1 341.92 635.73 343.06 637.35 344.21 638.96 345.38 640.56 346.56 642.16 347.75 643.74 348.95 645.32 350.17 646.89 351.4 648.46 352.64 650.01 353.89 651.56 355.15 653.1 356.42 654.64 357.7 656.17 358.99 657.69 360.29 659.21 361.6 660.72 362.91 662.22 364.24 663.72 365.57 665.22 366.91 666.71 368.26 668.2 369.61 669.68 370.97 671.15 372.34 672.63 373.71 674.1 375.08 675.57 376.47 677.03 377.85 678.49 379.24 679.95 380.63 681.4 382.03 682.86 383.43 684.31 384.83 685.76 386.23 687.2 387.64 688.65 389.05 690.1 390.45 691.54 391.86 692.98 393.27 694.43 394.68 695.87 396.09 697.31 397.5 698.76 398.91 700.2 400.31 701.64 401.72 703.08 403.13 704.53 404.54 705.97 405.94 707.41 407.35 708.85 408.76 710.29 410.17 711.73 411.58 713.16 412.99 714.6 414.4 716.03 415.81 717.47 417.22 718.9 418.64 720.33 420.05 721.76 421.47 723.18 422.88 724.61 424.3 726.03 425.72 727.45 427.14 728.86 428.57 730.28 429.99 731.69 431.42 733.1 432.85 734.5 434.28 735.91 435.72 737.31 437.16 738.7 438.59 740.1 440.04 741.49 441.48 742.87 442.93 744.25 444.38 745.63 445.83 747.01 447.29 748.38 448.75 749.74 450.21 751.11 451.68 752.46 453.15 753.81 454.63 755.16 456.1 756.51 457.59 757.84 459.07 759.18 460.56 760.51 462.06 761.83 463.55 763.15 465.06 764.46 466.56 765.76 468.08 767.06 469.59 768.36 471.12 769.65 472.64 770.93 474.17 772.2 475.71 773.47 477.25 774.74 478.8 775.99 480.35 777.24 481.91 778.49 483.48 779.72 485.05 780.95 486.62 782.17 488.2 783.39 489.79 784.6 491.39 785.8 492.99 786.99 494.59 788.17 496.21 789.35 497.83 790.52 499.45 791.68 501.09 792.83 502.73 793.97 504.38 795.11 506.03 796.23 507.69 797.35 509.36 798.47 511.03 799.57 512.71 800.67 514.39 801.76 516.08 802.84 517.77 803.92 519.47 804.99 521.17 806.06 522.88 807.12 524.59 808.18 526.3 809.23 528.02 810.28 529.74 811.32 531.46 812.36 533.19 813.39 534.92 814.42 536.65 815.45 538.38 816.47 540.11 817.5 541.85 818.51 543.58 819.53 545.32 820.55 547.06 821.56 548.8 822.57 550.53 823.58 552.27 824.59 554.01 825.6 555.75 826.61 557.48 827.62 559.22 828.63 560.95 829.64 562.68 830.65 564.41 831.66 566.14 832.67 567.86 833.69 569.58 834.71 571.3 835.73 573.02 836.75 574.73 837.78 576.43 838.81 578.13 839.85 579.82 840.9 581.51 841.96 583.18 843.02 584.85 844.1 586.51 845.19 588.17 846.28 589.81 847.39 591.44 848.51 593.06 849.65 594.67 850.8 596.27 851.97" stroke="#c8161f" stroke-width="4" fill="none" stroke-linecap="round" stroke-linejoin="round"/>
<path d="M283.53 637.98 L284.45 639.76 285.38 641.54 286.3 643.32 287.23 645.1 288.15 646.88 289.08 648.66 290.02 650.43 290.95 652.21 291.89 653.98 292.83 655.76 293.77 657.53 294.72 659.3 295.67 661.06 296.62 662.83 297.58 664.59 298.54 666.35 299.5 668.11 300.47 669.87 301.44 671.62 302.42 673.37 303.4 675.12 304.39 676.86 305.38 678.61 306.37 680.34 307.37 682.08 308.38 683.81 309.39 685.54 310.41 687.26 311.43 688.98 312.46 690.7 313.49 692.41 314.53 694.11 315.58 695.82 316.63 697.51 317.69 699.21 318.76 700.9 319.83 702.58 320.91 704.26 322 705.93 323.09 707.6 324.19 709.26 325.3 710.91 326.42 712.57 327.54 714.21 328.68 715.85 329.82 717.48 330.97 719.11 332.12 720.73 333.29 722.34 334.46 723.95 335.64 725.55 336.83 727.15 338.03 728.74 339.23 730.33 340.44 731.91 341.66 733.48 342.89 735.05 344.12 736.61 345.36 738.17 346.61 739.72 347.86 741.27 349.12 742.81 350.39 744.34 351.66 745.88 352.94 747.4 354.23 748.92 355.52 750.44 356.82 751.95 358.13 753.45 359.44 754.96 360.76 756.45 362.08 757.94 363.41 759.43 364.75 760.91 366.09 762.39 367.43 763.86 368.79 765.33 370.14 766.79 371.51 768.25 372.88 769.71 374.25 771.16 375.63 772.61 377.01 774.05 378.4 775.49 379.79 776.92 381.19 778.35 382.59 779.78 384 781.2 385.41 782.62 386.83 784.03 388.25 785.44 389.67 786.85 391.1 788.25 392.54 789.65 393.97 791.05 395.41 792.44 396.86 793.83 398.3 795.22 399.75 796.61 401.2 797.99 402.65 799.37 404.11 800.75 405.57 802.13 407.03 803.51 408.48 804.88 409.95 806.25 411.41 807.63 412.87 809 414.33 810.37 415.79 811.75 417.25 813.12 418.72 814.49 420.18 815.87 421.64 817.24 423.09 818.61 424.55 819.99 426.01 821.37 427.46 822.75 428.91 824.13 430.36 825.51 431.8 826.9 433.24 828.28 434.68 829.67 436.12 831.07 437.55 832.46 438.98 833.86 440.4 835.26 441.82 836.67 443.24 838.08 444.65 839.49 446.05 840.91 447.45 842.34 448.85 843.76 450.23 845.2 451.61 846.63 452.99 848.08 454.36 849.52 455.72 850.98" stroke="#c8161f" stroke-width="4" fill="none" stroke-linecap="round" stroke-linejoin="round"/>
<path d="M552.01 676.73 L552.65 678.65 553.31 680.57 553.98 682.48 554.68 684.38 555.4 686.27 556.14 688.16 556.89 690.03 557.67 691.9 558.46 693.76 559.28 695.6 560.11 697.44 560.96 699.27 561.83 701.09 562.72 702.9 563.63 704.71 564.56 706.5 565.5 708.28 566.46 710.05 567.44 711.81 568.44 713.56 569.45 715.3 570.48 717.03 571.53 718.75 572.59 720.46 573.68 722.16 574.78 723.84 575.89 725.52 577.02 727.18 578.17 728.83 579.34 730.47 580.52 732.1 581.71 733.72 582.93 735.32 584.15 736.91 585.4 738.49 586.65 740.06 587.93 741.61 589.22 743.15 590.52 744.68 591.84 746.2 593.17 747.7 594.52 749.19 595.88 750.67 597.25 752.13 598.64 753.58 600.05 755.01 601.46 756.44 602.9 757.84 604.34 759.24 605.8 760.61 607.27 761.98 608.75 763.33 610.25 764.66 611.75 765.98 613.28 767.29 614.81 768.58 616.36 769.85 617.91 771.11 619.48 772.36 621.07 773.58 622.66 774.8 624.27 775.99 625.88 777.17 627.51 778.34 629.15 779.49 630.8 780.62 632.46 781.73 634.13 782.83 635.81 783.91 637.51 784.98 639.21 786.02 640.92 787.05 642.64 788.07 644.38 789.06 646.12 790.04 647.87 791 649.63 791.94 651.4 792.86 653.18 793.77 654.97 794.66 656.76 795.53 658.57 796.39 660.38 797.23 662.2 798.05 664.03 798.86 665.87 799.65 667.71 800.43 669.56 801.2 671.42 801.95 673.28 802.69 675.15 803.42 677.02 804.13 678.9 804.83 680.79 805.52 682.68 806.2 684.57 806.87 686.48 807.53 688.38 808.18 690.29 808.82 692.2 809.45 694.12 810.07 696.04 810.68 697.96 811.29 699.89 811.89 701.82 812.48 703.75 813.07 705.69 813.65 707.62 814.22 709.56 814.79 711.5 815.35 713.44 815.91 715.38 816.47 717.33 817.02 719.27 817.57 721.22 818.12 723.16 818.66 725.11 819.2 727.05 819.74 729 820.28 730.94 820.81 732.89 821.34 734.83 821.87 736.78 822.4 738.73 822.93 740.67 823.46 742.62 823.98 744.56 824.51 746.51 825.03 748.45 825.55 750.4 826.07 752.35 826.6 754.29 827.12 756.24 827.64 758.18 828.16 760.13 828.68 762.07 829.2 764.01 829.72 765.96 830.24 767.9 830.76 769.84 831.28 771.78 831.81 773.73 832.33 775.67 832.86 777.61 833.38 779.55 833.91 781.49 834.44 783.43 834.97 785.36 835.5 787.3 836.04 789.24 836.57 791.17 837.11 793.11 837.65 795.04 838.2 796.97 838.74 798.9 839.29 800.83 839.84 802.76 840.4 804.69 840.95 806.62 841.51 808.55 842.08 810.47 842.64 812.4 843.21 814.32 843.79 816.24 844.37 818.16 844.95 820.08 845.53 822 846.13 823.92 846.72 825.83 847.32 827.75 847.92 829.66 848.53 831.57 849.15 833.48 849.77 835.39 850.39 837.29 851.02" stroke="#c8161f" stroke-width="4" fill="none" stroke-linecap="round" stroke-linejoin="round"/>
<path d="M669.47 677.52 L670.45 679.37 671.46 681.18 672.5 682.95 673.58 684.68 674.7 686.38 675.84 688.05 677.02 689.68 678.22 691.28 679.46 692.85 680.72 694.39 682.01 695.9 683.33 697.38 684.67 698.83 686.04 700.26 687.43 701.66 688.84 703.03 690.28 704.39 691.73 705.72 693.21 707.02 694.7 708.31 696.22 709.58 697.75 710.83 699.3 712.06 700.86 713.27 702.44 714.47 704.03 715.65 705.64 716.82 707.26 717.97 708.88 719.11 710.52 720.24 712.17 721.36 713.83 722.47 715.49 723.58 717.16 724.67 718.84 725.76 720.52 726.84 722.21 727.92 723.9 728.99 725.59 730.06 727.28 731.12 728.98 732.19 730.68 733.24 732.39 734.3 734.09 735.35 735.8 736.39 737.51 737.44 739.23 738.48 740.95 739.51 742.67 740.55 744.39 741.58 746.11 742.6 747.84 743.63 749.57 744.65 751.3 745.66 753.04 746.68 754.77 747.69 756.51 748.7 758.25 749.7 759.99 750.71 761.74 751.71 763.48 752.7 765.23 753.7 766.98 754.69 768.73 755.68 770.49 756.67 772.24 757.65 774 758.64 775.75 759.62 777.51 760.59 779.27 761.57 781.03 762.54 782.8 763.52 784.56 764.49 786.33 765.45 788.09 766.42 789.86 767.39 791.63 768.35 793.39 769.31 795.16 770.27 796.93 771.23 798.7 772.18 800.48 773.14 802.25 774.09 804.02 775.04 805.79 775.99 807.57 776.94 809.34 777.89 811.11 778.84 812.89 779.79 814.66 780.73 816.44 781.67 818.21 782.62 819.99 783.56 821.77 784.49 823.54 785.43 825.32 786.36 827.1 787.29 828.88 788.22 830.66 789.14 832.44 790.06 834.23 790.98 836.01 791.9 837.8 792.81 839.59 793.72 841.37 794.62 843.16 795.52 844.95 796.42 846.75 797.31 848.54 798.2 850.34 799.08 852.14 799.96 853.94 800.83 855.74 801.7 857.54 802.56 859.35 803.42 861.16 804.27 862.97 805.11 864.78 805.95 866.59 806.78 868.41 807.61 870.23 808.43 872.05 809.25 873.88 810.05 875.7 810.85 877.53 811.65 879.36 812.43 881.2 813.21 883.04 813.98 884.88 814.74 886.72 815.5 888.57 816.25 890.42 816.99 892.28 817.72 894.13 818.44 895.99 819.15 897.86 819.86 899.72 820.55 901.6 821.24 903.47 821.91 905.35 822.58 907.23 823.24 909.12 823.89 911 824.52 912.9 825.15 914.8 825.77 916.7 826.38 918.6 826.97 920.51 827.56 922.43 828.13 924.35 828.7 926.27 829.25 928.2 829.79 930.13 830.32 932.07 830.83 934.01 831.34 935.95 831.83 937.9 832.32 939.85 832.79 941.81 833.26 943.77 833.71 945.73 834.16 947.7 834.59 949.67 835.02 951.64 835.44 953.62 835.85 955.6 836.26 957.58 836.66 959.56 837.05 961.54 837.43 963.53 837.81 965.52 838.18 967.51 838.55 969.5 838.91 971.49 839.27 973.48 839.63 975.48 839.98 977.47 840.32 979.47 840.66 981.46 841 983.46 841.34 985.45 841.68 987.45 842.01 989.44 842.34 991.44 842.67 993.43 843 995.42 843.33 997.41 843.66 999.4 843.99 1001.39 844.33 1003.38 844.66 1005.37 844.99 1007.35 845.33 1009.33 845.66 1011.31 846 1013.29 846.34 1015.26 846.69 1017.23 847.04 1019.2 847.39 1021.17 847.75 1023.13 848.11 1025.09 848.47 1027.05 848.84 1029 849.22 1030.95 849.6 1032.89 849.99 1034.83 850.39 1036.76 850.79 1038.7 851.2" stroke="#727272" stroke-width="4" fill="none" stroke-linecap="round" stroke-linejoin="round"/>
<path d="M936 774.29 L937.99 774.41 939.98 774.53 941.98 774.65 943.97 774.77 945.96 774.89 947.95 775 949.94 775.11 951.94 775.23 953.93 775.34 955.92 775.44 957.92 775.55 959.91 775.66 961.9 775.76 963.9 775.87 965.89 775.97 967.89 776.07 969.88 776.17 971.88 776.27 973.87 776.36 975.87 776.46 977.87 776.56 979.86 776.65 981.86 776.74 983.85 776.83 985.85 776.92 987.85 777.01 989.85 777.1 991.84 777.19 993.84 777.28 995.84 777.36 997.84 777.45 999.83 777.53 1001.83 777.62 1003.83 777.7 1005.83 777.78 1007.83 777.86 1009.83 777.94 1011.83 778.02 1013.83 778.1 1015.83 778.18 1017.83 778.26 1019.83 778.34 1021.83 778.41 1023.83 778.49 1025.83 778.56 1027.83 778.64 1029.83 778.71 1031.83 778.79 1033.83 778.86 1035.83 778.94 1037.83 779.01 1039.83 779.08 1041.83 779.16 1043.83 779.23 1045.83 779.3 1047.83 779.38 1049.84 779.45 1051.84 779.52 1053.84 779.59 1055.84 779.66 1057.84 779.74 1059.84 779.81 1061.84 779.88 1063.85 779.95 1065.85 780.02 1067.85 780.1 1069.85 780.17 1071.85 780.24 1073.86 780.31 1075.86 780.39 1077.86 780.46 1079.86 780.53 1081.86 780.61 1083.87 780.68 1085.87 780.75 1087.87 780.83 1089.87 780.9 1091.87 780.98 1093.88 781.05 1095.88 781.13 1097.88 781.21 1099.88 781.28 1101.88 781.36 1103.89 781.44 1105.89 781.52 1107.89 781.6 1109.89 781.68 1111.89 781.76 1113.89 781.84 1115.9 781.92 1117.9 782.01 1119.9 782.09 1121.9 782.18 1123.9 782.26 1125.9 782.35 1127.9 782.44 1129.91 782.52 1131.91 782.61 1133.91 782.7 1135.91 782.79 1137.91 782.89 1139.91 782.98 1141.91 783.07 1143.91 783.17 1145.91 783.27 1147.91 783.37 1149.91 783.46 1151.91 783.56 1153.91 783.67 1155.91 783.77 1157.91 783.87 1159.91 783.98 1161.91 784.09 1163.91 784.19 1165.91 784.3 1167.91 784.42 1169.9 784.53 1171.9 784.64 1173.9 784.76 1175.9 784.88 1177.9 784.99 1179.89 785.11 1181.89 785.24 1183.89 785.36 1185.89 785.49 1187.88 785.61 1189.88 785.74 1191.88 785.87 1193.87 786 1195.87 786.14 1197.86 786.28 1199.86 786.41 1201.86 786.55 1203.85 786.7 1205.85 786.84 1207.84 786.99 1209.83 787.13 1211.83 787.28 1213.82 787.43 1215.82 787.59 1217.81 787.75 1219.8 787.9 1221.8 788.06 1223.79 788.23 1225.78 788.39 1227.77 788.56 1229.76 788.73 1231.76 788.9 1233.75 789.07 1235.74 789.25 1237.73 789.43 1239.72 789.61 1241.71 789.8 1243.7 789.98 1245.69 790.17 1247.68 790.36 1249.67 790.56 1251.65 790.75 1253.64 790.95 1255.63 791.15 1257.62 791.36 1259.6 791.56 1261.59 791.77 1263.58 791.99 1265.56 792.2 1267.55 792.42 1269.53 792.64 1271.52 792.87 1273.5 793.09 1275.49 793.32 1277.47 793.55 1279.45 793.79 1281.44 794.03 1283.42 794.27 1285.4 794.51 1287.38 794.76 1289.37 795.01 1291.35 795.27 1293.33 795.52 1295.31 795.78 1297.29 796.05 1299.27 796.31 1301.24 796.58 1303.22 796.86 1305.2 797.13 1307.18 797.41 1309.16 797.69 1311.13 797.98 1313.11 798.27 1315.09 798.56 1317.06 798.85 1319.04 799.15 1321.01 799.44 1322.99 799.75 1324.96 800.05 1326.93 800.36 1328.91 800.66 1330.88 800.98 1332.85 801.29 1334.83 801.61 1336.8 801.93 1338.77 802.25 1340.74 802.57 1342.71 802.9 1344.69 803.23 1346.66 803.56 1348.63 803.89 1350.6 804.22 1352.57 804.56 1354.54 804.9 1356.51 805.24 1358.48 805.58 1360.45 805.93 1362.41 806.28 1364.38 806.62 1366.35 806.98 1368.32 807.33 1370.29 807.68 1372.25 808.04 1374.22 808.4 1376.19 808.75 1378.16 809.12 1380.12 809.48 1382.09 809.84 1384.06 810.21 1386.02 810.57 1387.99 810.94 1389.95 811.31 1391.92 811.68 1393.88 812.05 1395.85 812.43 1397.82 812.8 1399.78 813.18 1401.75 813.56 1403.71 813.93 1405.67 814.31 1407.64 814.69 1409.6 815.07 1411.57 815.46 1413.53 815.84 1415.5 816.22 1417.46 816.61 1419.42 816.99 1421.39 817.38 1423.35 817.77 1425.31 818.15 1427.28 818.54 1429.24 818.93 1431.2 819.32 1433.17 819.71 1435.13 820.1 1437.09 820.49 1439.06 820.88 1441.02 821.27 1442.98 821.67 1444.95 822.06 1446.91 822.45 1448.87 822.84 1450.84 823.24 1452.8 823.63 1454.76 824.02 1456.73 824.42 1458.69 824.81 1460.65 825.2 1462.61 825.59 1464.58 825.99 1466.54 826.38 1468.5 826.77 1470.47 827.17 1472.43 827.56 1474.39 827.95 1476.36 828.34 1478.32 828.73 1480.28 829.12 1482.25 829.51 1484.21 829.9 1486.17 830.29 1488.14 830.68 1490.1 831.07 1492.07 831.46 1494.03 831.84 1495.99 832.23 1497.96 832.62 1499.92 833 1501.89 833.38 1503.85 833.77 1505.82 834.15 1507.78 834.53 1509.75 834.91 1511.71 835.29 1513.68 835.67 1515.64 836.04 1517.61 836.42 1519.57 836.79 1521.54 837.17 1523.51 837.54 1525.47 837.91 1527.44 838.28 1529.41 838.65 1531.37 839.01 1533.34 839.38 1535.31 839.74 1537.28 840.11 1539.24 840.47 1541.21 840.83 1543.18 841.18 1545.15 841.54 1547.12 841.89 1549.09 842.24 1551.06 842.59 1553.03 842.94 1555 843.29 1556.97 843.63 1558.94 843.98 1560.91 844.32 1562.88 844.66 1564.85 844.99 1566.82 845.33 1568.79 845.66 1570.76 845.99 1572.74 846.32 1574.71 846.65 1576.68 846.97 1578.66 847.29 1580.63 847.61 1582.6 847.92 1584.58 848.24 1586.55 848.55 1588.53 848.86 1590.5 849.17 1592.48 849.47 1594.46 849.77 1596.43 850.07 1598.41 850.36 1600.39 850.66 1602.36 850.95 1604.34 851.23 1606.32 851.52 1608.3 851.8" stroke="#e27a36" stroke-width="4" fill="none" stroke-linecap="round" stroke-linejoin="round"/>
<path d="M262.7 243.3 L337.7 243.3 L337.7 287 L291 287 L256.3 320.2 L275.5 287 L262.7 287Z" fill="#fff" stroke="#65a05e" stroke-width="2.3"/>
<text x="298" y="269.6" text-anchor="middle" font-family="Liberation Sans, sans-serif" font-weight="bold" font-size="14.6" fill="#2a2a2a" textLength="34.7" lengthAdjust="spacingAndGlyphs">M80A</text>
<path d="M105.5 375 L150.5 375 L187.5 343 L169.25 375 L182.2 375 L182.2 412.75 L105.5 412.75Z" fill="#fff" stroke="#65a05e" stroke-width="2.3"/>
<text x="141.6" y="402.4" text-anchor="middle" font-family="Liberation Sans, sans-serif" font-weight="bold" font-size="14.6" fill="#2a2a2a" textLength="35.7" lengthAdjust="spacingAndGlyphs">M70A</text>
<path d="M104.5 449.2 L180.7 449.2 L180.7 456.25 L237 466 L180.7 467.5 L180.7 493.5 L104.5 493.5Z" fill="#fff" stroke="#284c70" stroke-width="2.3"/>
<text x="139.75" y="475.5" text-anchor="middle" font-family="Liberation Sans, sans-serif" font-weight="bold" font-size="14.6" fill="#2a2a2a" textLength="34.5" lengthAdjust="spacingAndGlyphs">M70B</text>
<path d="M329.5 395.5 L411.6 395.5 L411.6 433.3 L363 433.3 L326.4 455.5 L342.5 433.3 L329.5 433.3Z" fill="#fff" stroke="#2d5478" stroke-width="2.3"/>
<text x="364.8" y="421.3" text-anchor="middle" font-family="Liberation Sans, sans-serif" font-weight="bold" font-size="14.6" fill="#2a2a2a" textLength="34" lengthAdjust="spacingAndGlyphs">M80B</text>
<path d="M103.75 541.25 L179.3 541.25 L179.3 584.3 L167 584.3 L147.2 626.5 L147.5 584.3 L103.75 584.3Z" fill="#fff" stroke="#65a05e" stroke-width="2.3"/>
<text x="139.5" y="567.65" text-anchor="middle" font-family="Liberation Sans, sans-serif" font-weight="bold" font-size="14.6" fill="#2a2a2a" textLength="35" lengthAdjust="spacingAndGlyphs">M60A</text>
<path d="M372 538.4 L446 538.4 L446 577.2 L401.5 577.2 L344.5 637.2 L383.5 577.2 L372 577.2Z" fill="#fff" stroke="#b8393c" stroke-width="2.3"/>
<text x="406.2" y="564.1" text-anchor="middle" font-family="Liberation Sans, sans-serif" font-weight="bold" font-size="14.6" fill="#2a2a2a" textLength="33.2" lengthAdjust="spacingAndGlyphs">M70C</text>
<path d="M231.8 745.9 L275.9 745.9 L292.5 726.5 L294 745.9 L306 745.9 L306 783 L231.8 783Z" fill="#fff" stroke="#45709a" stroke-width="2.3"/>
<text x="267.2" y="771.9" text-anchor="middle" font-family="Liberation Sans, sans-serif" font-weight="bold" font-size="14.6" fill="#2a2a2a" textLength="34" lengthAdjust="spacingAndGlyphs">M60B</text>
<path d="M490.4 720 L564 720 L564 762 L520.5 762 L417.5 808.5 L504.5 762 L490.4 762Z" fill="#fff" stroke="#b8393c" stroke-width="2.3"/>
<text x="525" y="745.9" text-anchor="middle" font-family="Liberation Sans, sans-serif" font-weight="bold" font-size="14.6" fill="#2a2a2a" textLength="34" lengthAdjust="spacingAndGlyphs">M60C</text>
<path d="M568 613.6 L641.1 613.6 L641.1 656 L597.6 656 L564.9 696 L579.2 656 L568 656Z" fill="#fff" stroke="#b8393c" stroke-width="2.3"/>
<text x="603" y="639.7" text-anchor="middle" font-family="Liberation Sans, sans-serif" font-weight="bold" font-size="14.6" fill="#2a2a2a" textLength="33.3" lengthAdjust="spacingAndGlyphs">M80C</text>
<path d="M727 662.8 L808.4 662.8 L808.4 702.3 L760.5 702.3 L732.6 731.5 L740.8 702.3 L727 702.3Z" fill="#fff" stroke="#6f6f6f" stroke-width="2.3"/>
<text x="763.9" y="689.8" text-anchor="middle" font-family="Liberation Sans, sans-serif" font-weight="bold" font-size="14.6" fill="#2a2a2a" textLength="36.7" lengthAdjust="spacingAndGlyphs">M90-3</text>
<path d="M1189.8 726.9 L1270.5 726.9 L1270.5 762 L1222.3 762 L1197 781.7 L1203 762 L1189.8 762Z" fill="#fff" stroke="#e0915a" stroke-width="2.3"/>
<text x="1227.4" y="752.9" text-anchor="middle" font-family="Liberation Sans, sans-serif" font-weight="bold" font-size="14.6" fill="#2a2a2a" textLength="38" lengthAdjust="spacingAndGlyphs">M90-4</text>
</svg></body></html>
